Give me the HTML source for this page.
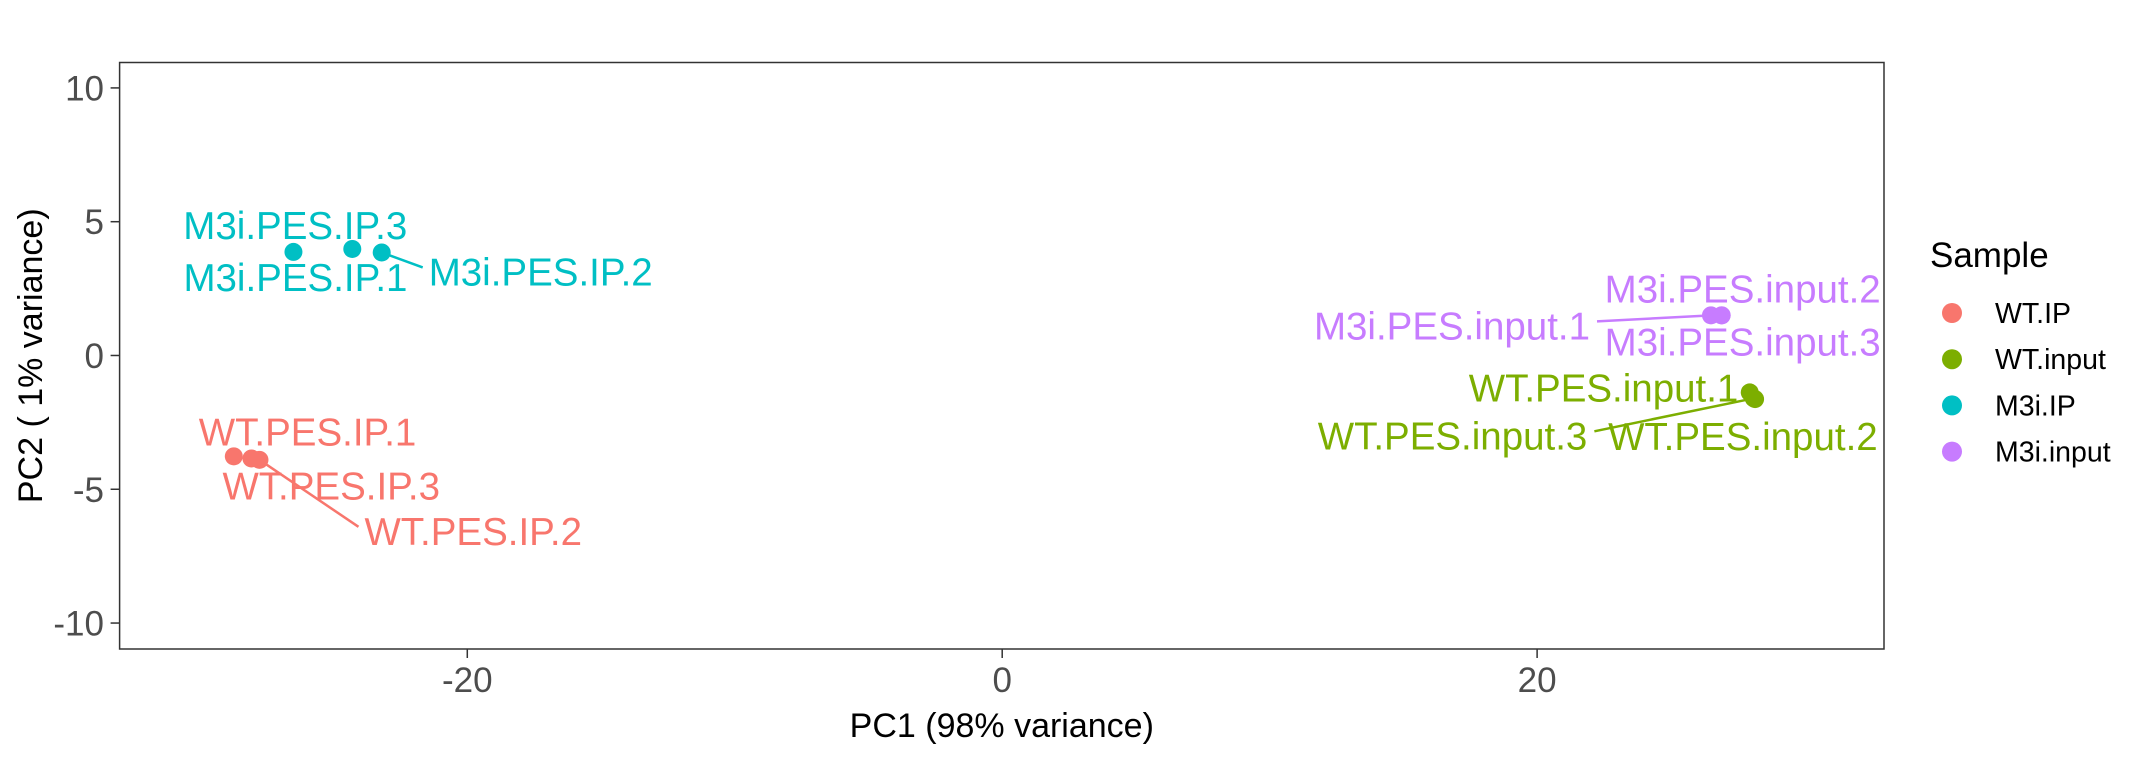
<!DOCTYPE html>
<html><head><meta charset="utf-8"><style>
html,body{margin:0;padding:0;background:#fff;}
svg{display:block;font-family:"Liberation Sans",Arial,sans-serif;}
</style></head><body>
<svg id="chart" width="2140" height="772" viewBox="0 0 2140 772">
<rect x="0" y="0" width="2140" height="772" fill="#fff"/>
<g id="marks"></g>
</svg>
<script>
const groups = ["WT.IP","WT.input","M3i.IP","M3i.input"];
const groupColors = ["#F8766D","#7CAE00","#00BFC4","#C77CFF"];
const sampleNames = ["WT.PES.IP.1","WT.PES.IP.2","WT.PES.IP.3","WT.PES.input.1","WT.PES.input.2","WT.PES.input.3","M3i.PES.IP.1","M3i.PES.IP.2","M3i.PES.IP.3","M3i.PES.input.1","M3i.PES.input.2","M3i.PES.input.3"];
const sampleGroup = [0,0,0,1,1,1,2,2,2,3,3,3];
const pc1 = [-28.73,-27.77,-28.07,27.95,28.15,28.1,-26.5,-23.2,-24.3,26.5,26.9,26.9];
const pc2 = [-3.77,-3.9,-3.85,-1.38,-1.63,-1.6,3.87,3.85,3.98,1.5,1.5,1.5];
// label placement (pixel offset of label left/baseline from its point) – layout only
const labelDX = [-35,105,-29,-281,-147,-436,-110,47,-169,-397,-117,-117];
const labelDY = [-11,85,41,9,51,51,39,33,-10,24,-13,40];
// segment side: 0 none, -1 from label left, 1 from label right
const segSide = [0,-1,0,0,0,1,0,-1,0,1,0,0];
const xTicks = [-20,0,20];
const yTicks = [10,5,0,-5,-10];

const P = {l:119.6, r:1884, t:62.5, b:649};
const xMin=-33, xMax=32.97, yMin=-10.97, yMax=10.95;
const X = v => P.l + (v-xMin)/(xMax-xMin)*(P.r-P.l);
const Y = v => P.b - (v-yMin)/(yMax-yMin)*(P.b-P.t);
const NS="http://www.w3.org/2000/svg";
const g=document.getElementById('marks');
function mk(tag,attrs,parent,text){const e=document.createElementNS(NS,tag);for(const k in attrs)e.setAttribute(k,attrs[k]);if(text!==undefined)e.textContent=text;(parent||g).appendChild(e);return e;}

const panel=mk('rect',{x:P.l,y:P.t,width:P.r-P.l,height:P.b-P.t,fill:'none',stroke:'#333',"stroke-width":1.5});



xTicks.forEach(t=>{
  const l=mk('line',{x1:X(t),x2:X(t),y1:P.b,y2:P.b+9,stroke:'#333',"stroke-width":1.5});
  
  
  const tx=mk('text',{x:X(t),y:692,"text-anchor":"middle","font-size":35,fill:'#4D4D4D'},g,String(t));
  
  
});
yTicks.forEach(t=>{
  const l=mk('line',{x1:P.l-9,x2:P.l,y1:Y(t),y2:Y(t),stroke:'#333',"stroke-width":1.5});
  
  
  const tx=mk('text',{x:104,y:Y(t)+12.5,"text-anchor":"end","font-size":35,fill:'#4D4D4D'},g,String(t));
  
  
});
const xt=mk('text',{x:(P.l+P.r)/2,y:737,"text-anchor":"middle","font-size":34,fill:'#000'},g,'PC1 (98% variance)');


const yt=mk('text',{x:0,y:0,"text-anchor":"middle","font-size":34,fill:'#000',transform:`translate(42,${(P.t+P.b)/2}) rotate(-90)`},g,'PC2 ( 1% variance)');



const fs=38.5;
sampleNames.forEach((n,i)=>{
  const c=groupColors[sampleGroup[i]];
  const px=X(pc1[i]), py=Y(pc2[i]);
  const lx=px+labelDX[i], ly=py+labelDY[i];
  const t=mk('text',{x:lx,y:ly,"font-size":fs,fill:c},g,n);
  
  
  if(segSide[i]!==0){
    const w=t.getComputedTextLength();
    const sx = segSide[i]<0 ? lx-6 : lx+w+7;
    const sy = ly-18;
    const s=mk('line',{x1:sx,y1:sy,x2:px,y2:py,stroke:c,"stroke-width":2.5});
    
    
  }
});
sampleNames.forEach((n,i)=>{
  const p=mk('circle',{cx:X(pc1[i]),cy:Y(pc2[i]),r:9,fill:groupColors[sampleGroup[i]]});
  
  
});

const lt=mk('text',{x:1930,y:267,"font-size":35,fill:'#000'},g,'Sample');


groups.forEach((gname,k)=>{
  const yy=313+k*46.2;
  const c=mk('circle',{cx:1952,cy:yy,r:10,fill:groupColors[k]});
  
  
  const t=mk('text',{x:1995,y:yy+10,"font-size":28.5,fill:'#000'},g,gname);
  
  
});
</script>
</body></html>
